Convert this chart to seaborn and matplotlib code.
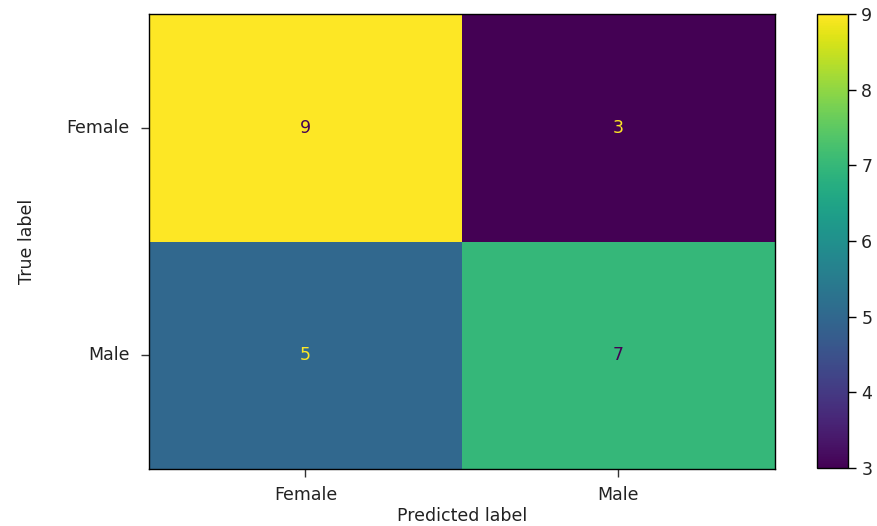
import numpy as np
import pandas as pd
import matplotlib
matplotlib.use("Agg")
import matplotlib.pyplot as plt
import seaborn as sns

# Confusion matrix of the gender classifier
classes = ["Female", "Male"]
counts_female = [9, 3]   # true Female -> predicted Female / Male
counts_male = [5, 7]     # true Male -> predicted Female / Male
cbar_ticks = [3, 4, 5, 6, 7, 8, 9]

cm = pd.DataFrame([counts_female, counts_male], index=classes, columns=classes)

plt.rcParams["font.family"] = ["DejaVu Sans"]
plt.rcParams["font.size"] = 12.5

fig = plt.figure(figsize=(8.78, 5.26), dpi=100)
ax = fig.add_axes([149 / 878, 57 / 526, 626 / 878, 455 / 526])
cax = fig.add_axes([817 / 878, 58 / 526, 31 / 878, 454 / 526])

cmap = plt.get_cmap("viridis")
sns.heatmap(cm, ax=ax, cbar_ax=cax, cmap=cmap, vmin=cm.values.min(),
            vmax=cm.values.max(), annot=False, linewidths=0, square=False)

# Cell annotations: light text on dark cells, dark text on light cells
vmin, vmax = cm.values.min(), cm.values.max()
thresh = (vmin + vmax) / 2.0
for i, row in enumerate(cm.values):
    for j, v in enumerate(row):
        color = cmap(1.0) if v < thresh else cmap(0.0)
        ax.text(j + 0.5, i + 0.5, str(v), ha="center", va="center",
                color=color, fontsize=12.5)

for sp in ax.spines.values():
    sp.set_visible(True)
    sp.set_color("black")
    sp.set_linewidth(1.0)

ax.tick_params(axis="both", length=6, width=1, color="#333333",
               labelsize=12.5, labelcolor="#222222")
ax.tick_params(axis="y", pad=8)
ax.tick_params(axis="x", pad=6)
ax.set_xticklabels(classes, rotation=0)
ax.set_yticklabels(classes, rotation=0)
ax.set_xlabel("Predicted label", fontsize=12.5, color="#222222")
ax.set_ylabel("True label", fontsize=12.5, color="#222222")
ax.xaxis.set_label_coords(0.5, -0.083)
ax.yaxis.set_label_coords(-0.18, 0.5)

cax.set_yticks(cbar_ticks)
cax.tick_params(length=6, width=1, labelsize=12.5, labelcolor="#222222")
cb = ax.collections[0].colorbar
cb.outline.set_visible(True)
cb.outline.set_edgecolor("black")
cb.outline.set_linewidth(1.0)

fig.savefig("out.png", dpi=100)
